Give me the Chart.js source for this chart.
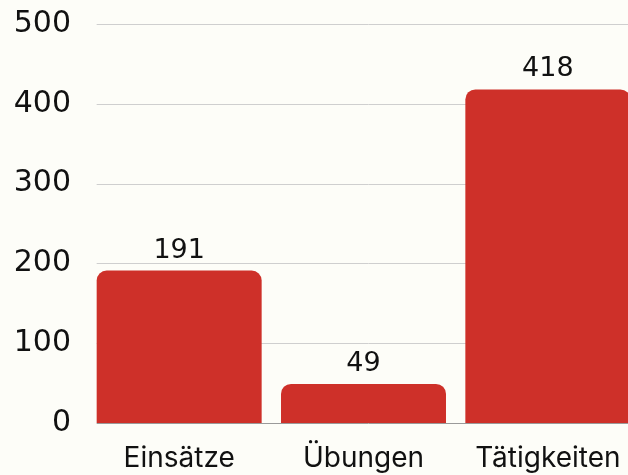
<!DOCTYPE html>
<html>
<head>
<meta charset="utf-8">
<script src="https://cdn.jsdelivr.net/npm/chart.js@4"></script>
<style>
  html, body { margin: 0; padding: 0; background: #fdfdf8; overflow: hidden; }
  #wrap { width: 640px; height: 475px; }
</style>
</head>
<body>
<div id="wrap"><canvas id="chart" width="640" height="475"></canvas></div>
<script>
const kategorien = ["Einsätze", "Übungen", "Tätigkeiten"];
const anzahl = [191, 49, 418];
const yTicks = [0, 100, 200, 300, 400, 500];

const rot = "#ce3029";
const schrift = "Inter, 'Noto Sans', sans-serif";
const zahlen = "'DejaVu Sans', sans-serif";

// Gitterlinien erst ab der ersten Säule, wie im Original
const gitter = {
  id: "gitter",
  beforeDatasetsDraw(chart) {
    const { ctx, chartArea, scales } = chart;
    const links = scales.x.getPixelForValue(0) - chart.getDatasetMeta(0).data[0].width / 2;
    ctx.save();
    yTicks.forEach(v => {
      const y = Math.round(scales.y.getPixelForValue(v)) + 0.5;
      ctx.strokeStyle = v === 0 ? "#9a9a9a" : "#cfcfcf";
      ctx.lineWidth = 1;
      ctx.beginPath();
      ctx.moveTo(links, y);
      ctx.lineTo(chartArea.right, y);
      ctx.stroke();
    });
    ctx.restore();
  }
};

const werte = {
  id: "werte",
  afterDatasetsDraw(chart) {
    const { ctx } = chart;
    ctx.save();
    ctx.font = "27px " + zahlen;
    ctx.fillStyle = "#111";
    ctx.textAlign = "center";
    ctx.textBaseline = "alphabetic";
    chart.getDatasetMeta(0).data.forEach((bar, i) => {
      ctx.fillText(String(anzahl[i]), bar.x, bar.y - 13);
    });
    ctx.restore();
  }
};

new Chart(document.getElementById("chart"), {
  type: "bar",
  data: {
    labels: kategorien,
    datasets: [{
      data: anzahl,
      backgroundColor: rot,
      borderRadius: { topLeft: 10, topRight: 10, bottomLeft: 0, bottomRight: 0 },
      borderSkipped: "bottom",
      barPercentage: 0.895,
      categoryPercentage: 1
    }]
  },
  options: {
    responsive: false,
    animation: false,
    layout: { padding: { top: 24, bottom: 0, left: 0, right: 0 } },
    plugins: { legend: { display: false }, tooltip: { enabled: false } },
    scales: {
      x: {
        afterFit(scale) { scale.height = 52; },
        grid: { display: false },
        border: { display: false },
        ticks: { color: "#111", font: { family: schrift, size: 28 }, padding: 11 }
      },
      y: {
        min: 0,
        max: 500,
        afterFit(scale) {
          scale.width = 87;
          scale.paddingTop = 0;
          scale.paddingBottom = 0;
        },
        afterBuildTicks(scale) { scale.ticks = yTicks.map(v => ({ value: v })); },
        grid: { display: false, drawTicks: false },
        border: { display: false },
        ticks: { color: "#111", font: { family: zahlen, size: 30 }, padding: 16 }
      }
    }
  },
  plugins: [gitter, werte]
});
</script>
</body>
</html>
